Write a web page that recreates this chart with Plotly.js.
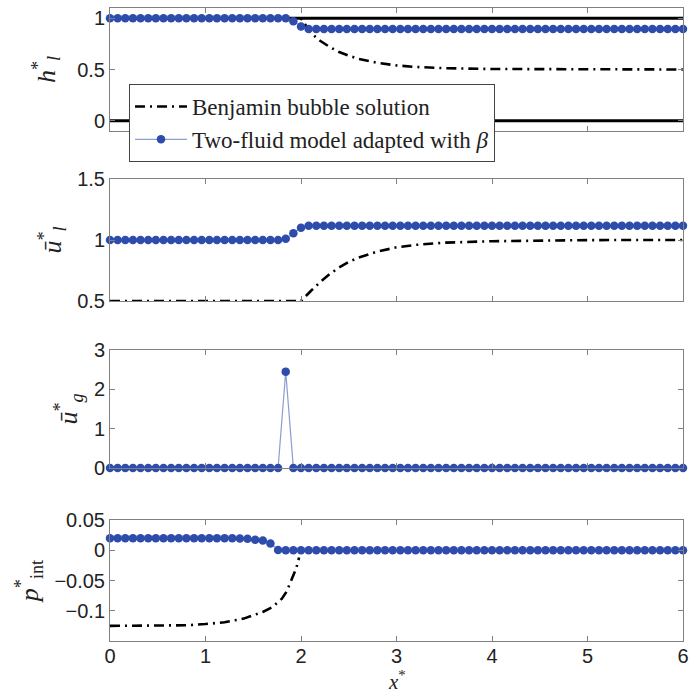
<!DOCTYPE html>
<html>
<head>
<meta charset="utf-8">
<script src="https://cdn.plot.ly/plotly-3.0.1.min.js"></script>
<style>html,body{margin:0;padding:0;background:#fff;}#chart{width:691px;height:695px;}</style>
</head>
<body>
<div id="chart"></div>
<script>
// ---- Two-fluid model (markers) ----
const xModel = [0,0.08,0.16,0.24,0.32,0.4,0.48,0.56,0.64,0.72,
  0.8,0.88,0.96,1.04,1.12,1.2,1.28,1.36,1.44,1.52,
  1.6,1.68,1.76,1.84,1.92,2,2.08,2.16,2.24,2.32,
  2.4,2.48,2.56,2.64,2.72,2.8,2.88,2.96,3.04,3.12,
  3.2,3.28,3.36,3.44,3.52,3.6,3.68,3.76,3.84,3.92,
  4,4.08,4.16,4.24,4.32,4.4,4.48,4.56,4.64,4.72,
  4.8,4.88,4.96,5.04,5.12,5.2,5.28,5.36,5.44,5.52,
  5.6,5.68,5.76,5.84,5.92,6];
const hModel = [1,1,1,1,1,1,1,1,1,1,
  1,1,1,1,1,1,1,1,1,1,
  1,1,1,1,0.97,0.92,0.895,0.895,0.895,0.895,
  0.895,0.895,0.895,0.895,0.895,0.895,0.895,0.895,0.895,0.895,
  0.895,0.895,0.895,0.895,0.895,0.895,0.895,0.895,0.895,0.895,
  0.895,0.895,0.895,0.895,0.895,0.895,0.895,0.895,0.895,0.895,
  0.895,0.895,0.895,0.895,0.895,0.895,0.895,0.895,0.895,0.895,
  0.895,0.895,0.895,0.895,0.895,0.895];
const ulModel = [1,1,1,1,1,1,1,1,1,1,
  1,1,1,1,1,1,1,1,1,1,
  1,1,1,1.01,1.055,1.1,1.117,1.117,1.117,1.117,
  1.117,1.117,1.117,1.117,1.117,1.117,1.117,1.117,1.117,1.117,
  1.117,1.117,1.117,1.117,1.117,1.117,1.117,1.117,1.117,1.117,
  1.117,1.117,1.117,1.117,1.117,1.117,1.117,1.117,1.117,1.117,
  1.117,1.117,1.117,1.117,1.117,1.117,1.117,1.117,1.117,1.117,
  1.117,1.117,1.117,1.117,1.117,1.117];
const ugModel = [0,0,0,0,0,0,0,0,0,0,
  0,0,0,0,0,0,0,0,0,0,
  0,0,0,2.45,0,0,0,0,0,0,
  0,0,0,0,0,0,0,0,0,0,
  0,0,0,0,0,0,0,0,0,0,
  0,0,0,0,0,0,0,0,0,0,
  0,0,0,0,0,0,0,0,0,0,
  0,0,0,0,0,0];
const pModel = [0.02,0.02,0.02,0.02,0.02,0.02,0.02,0.02,0.02,0.02,
  0.02,0.02,0.02,0.02,0.02,0.02,0.02,0.0195,0.019,0.0175,
  0.016,0.011,0.0005,0,0,0,0,0,0,0,
  0,0,0,0,0,0,0,0,0,0,
  0,0,0,0,0,0,0,0,0,0,
  0,0,0,0,0,0,0,0,0,0,
  0,0,0,0,0,0,0,0,0,0,
  0,0,0,0,0,0];

// ---- Benjamin bubble solution (dash-dot) ----
const xBen = [0,0.5,1,1.5,2,2.1,2.2,2.3,2.4,2.5,2.6,2.8,3,3.2,3.5,4,4.5,5,5.5,6];
const hBen = [1,1,1,1,1,0.86,0.78,0.72,0.67,0.635,0.605,0.565,0.54,0.525,0.513,0.505,0.502,0.501,0.5,0.5];
const uBen = [0.5,0.5,0.5,0.5,0.5,0.58,0.655,0.72,0.775,0.82,0.855,0.905,0.94,0.96,0.978,0.99,0.996,0.999,1,1];
const xBenP = [0,0.5,0.8,1,1.2,1.4,1.5,1.6,1.7,1.8,1.85,1.9,1.95,1.98];
const pBen = [-0.125,-0.125,-0.124,-0.122,-0.119,-0.113,-0.108,-0.102,-0.094,-0.08,-0.068,-0.05,-0.03,-0.012];

// ---- channel walls ----
const xWall = [0,6];
const wallBottom = [0,0];
const wallTop = [1,1];

// ---- tick labels ----
const xTicks = [0,1,2,3,4,5,6];
const hTicks = [0,0.5,1];
const hTickText = ['0','0.5','1'];
const ulTicks = [0.5,1,1.5];
const ulTickText = ['0.5','1','1.5'];
const ugTicks = [0,1,2,3];
const ugTickText = ['0','1','2','3'];
const pTicks = [-0.1,-0.05,0,0.05];
const pTickText = ['\u22120.1','\u22120.05','0','0.05'];

const names = ['Benjamin bubble solution','Two-fluid model adapted with <i>\u03b2</i>'];
const xTitle = '<i>x</i><sup>*</sup>';

const SERIF = 'Liberation Serif';
const BLUE = 'rgb(46,76,172)';
const benLine = {color:'#000', width:2.6, dash:'10px,5px,2px,5px'};
const modLine = {color:'rgba(46,76,172,0.55)', width:1.2};
const modMarker = {color:BLUE, size:8.5, line:{width:0}};

const traces = [];
// panel 1
traces.push({x:xWall,y:wallBottom,xaxis:'x',yaxis:'y',mode:'lines',line:{color:'#000',width:3},showlegend:false,hoverinfo:'skip'});
traces.push({x:xWall,y:wallTop,xaxis:'x',yaxis:'y',mode:'lines',line:{color:'#000',width:3},showlegend:false,hoverinfo:'skip'});
traces.push({x:xBen,y:hBen,xaxis:'x',yaxis:'y',mode:'lines',line:benLine,name:names[0],showlegend:true,legendrank:1});
traces.push({x:xModel,y:hModel,xaxis:'x',yaxis:'y',mode:'lines+markers',line:modLine,marker:modMarker,name:names[1],showlegend:true,legendrank:2,cliponaxis:false});
// panel 2
traces.push({x:xBen,y:uBen,xaxis:'x2',yaxis:'y2',mode:'lines',line:benLine,showlegend:false});
traces.push({x:xModel,y:ulModel,xaxis:'x2',yaxis:'y2',mode:'lines+markers',line:modLine,marker:modMarker,showlegend:false,cliponaxis:false});
// panel 3
traces.push({x:xModel,y:ugModel,xaxis:'x3',yaxis:'y3',mode:'lines+markers',line:modLine,marker:modMarker,showlegend:false,cliponaxis:false});
// panel 4
traces.push({x:xBenP,y:pBen,xaxis:'x4',yaxis:'y4',mode:'lines',line:benLine,showlegend:false});
traces.push({x:xModel,y:pModel,xaxis:'x4',yaxis:'y4',mode:'lines+markers',line:modLine,marker:modMarker,showlegend:false,cliponaxis:false});

const tickFont = {family:'Liberation Sans', size:20, color:'#222'};
const titleFont = {family:SERIF, size:26, color:'#222'};
const L = 110/691, R = 683/691;
function dom(top, bottom){ return [1 - bottom/695, 1 - top/695]; }

function xa(anchor, showLabels){
  return {domain:[L,R], anchor:anchor, range:[0,6], tickvals:xTicks, ticktext:xTicks.map(String),
    showticklabels:showLabels, ticks:'inside', ticklen:5, tickcolor:'#808080', mirror:'ticks',
    showline:true, linecolor:'#808080', linewidth:1, showgrid:false, zeroline:false, tickfont:tickFont};
}
function ya(anchor, d, range, tv, tt, title, standoff){
  return {domain:d, anchor:anchor, range:range, tickvals:tv, ticktext:tt,
    ticks:'inside', ticklen:5, tickcolor:'#808080', mirror:'ticks',
    showline:true, linecolor:'#808080', linewidth:1, showgrid:false, zeroline:false, tickfont:tickFont,
    title:{text:title, font:titleFont, standoff:standoff}};
}

const xa4 = xa('y4', true);
xa4.ticklabelstandoff = -3;

const layout = {
  width:691, height:695,
  margin:{l:0,r:0,t:0,b:0},
  paper_bgcolor:'#fff', plot_bgcolor:'#fff',
  showlegend:true,
  legend:{x:129/691, y:1-84/695, xanchor:'left', yanchor:'top', bgcolor:'#fff',
    bordercolor:'#444', borderwidth:1, font:{family:SERIF, size:23, color:'#222'},
    itemwidth:52, tracegroupgap:0},
  xaxis:xa('y', false),
  xaxis2:xa('y2', false),
  xaxis3:xa('y3', false),
  xaxis4:xa4,
  yaxis:ya('x', dom(8,131), [-0.1,1.1], hTicks, hTickText, '<i>h</i><sup>*</sup><sub><i>l</i></sub>', 14),
  yaxis2:ya('x2', dom(179,301), [0.5,1.5], ulTicks, ulTickText, '<i>\u016b</i><sup>*</sup><sub><i>l</i></sub>', 8),
  yaxis3:ya('x3', dom(350,468), [0,3], ugTicks, ugTickText, '<i>\u016b</i><sup>*</sup><sub><i>g</i></sub>', 8),
  yaxis4:ya('x4', dom(520,641), [-0.15,0.05], pTicks, pTickText, '<i>p</i><sup>*</sup><sub>int</sub>', 8),
  annotations:[{text:xTitle, xref:'paper', yref:'paper', x:397/691, y:0, xanchor:'center', yanchor:'bottom',
    yshift:-1, showarrow:false, font:{family:SERIF, size:21, color:'#222'}}]
};

Plotly.newPlot('chart', traces, layout, {staticPlot:true, displayModeBar:false});
</script>
</body>
</html>
